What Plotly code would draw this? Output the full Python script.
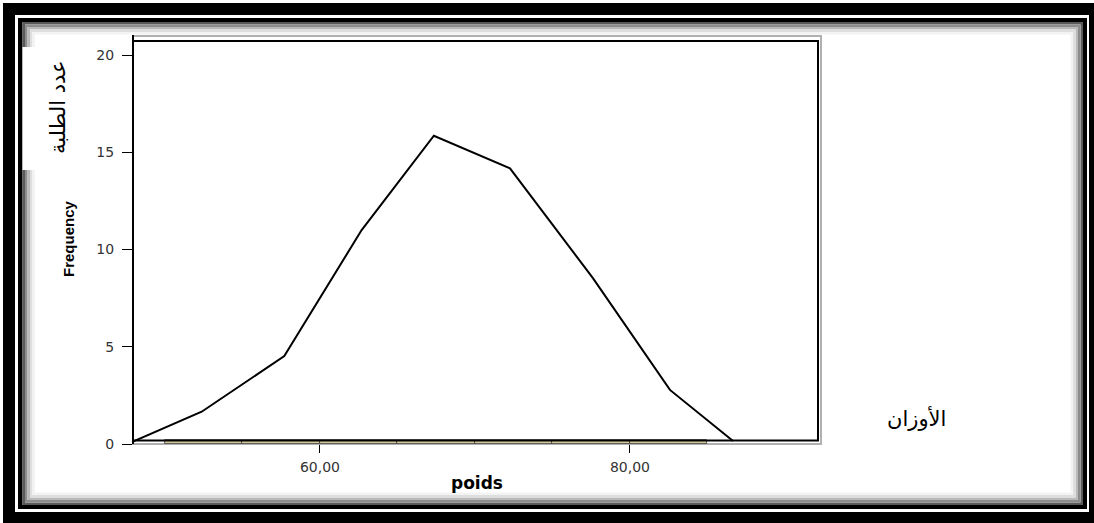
import plotly.graph_objects as go

# ---- data ----
poly_x = [47.94, 52.37, 57.70, 62.69, 67.35, 72.26, 77.61, 82.58, 86.65]
poly_y = [0.12, 1.66, 4.52, 11.0, 15.85, 14.17, 8.53, 2.78, 0.15]
bin_centers = [52.5, 57.5, 62.5, 67.5, 72.5, 77.5, 82.5]
bin_heights = [0.2, 0.2, 0.2, 0.2, 0.2, 0.2, 0.2]
y_ticks = [0, 5, 10, 15, 20]
x_ticks = [60, 80]
x_tick_labels = ["60,00", "80,00"]

W_FIG, H_FIG = 1094, 523
L, R, T, B = 133, 818, 41, 444
PW, PH = R - L, B - T

def px(x):
    return (x - L) / PW

def py(y):
    return (B - y) / PH

def rect(x0, y0, x1, y1, fill=None, line=None, lw=0, layer="below"):
    d = dict(type="rect", xref="paper", yref="paper",
             x0=px(x0), x1=px(x1), y0=py(y1), y1=py(y0), layer=layer,
             line=dict(width=lw, color=line if line else "rgba(0,0,0,0)"))
    d["fillcolor"] = fill if fill else "rgba(0,0,0,0)"
    return d

shapes = []
# outer double frame
shapes.append(rect(3, 3, 1094, 523, fill="black"))
shapes.append(rect(15, 15, 1089, 512, fill="white"))
shapes.append(rect(18, 18, 1087, 509, fill="black"))
shapes.append(rect(22.5, 22, 1083, 505, fill="white"))
# inner shadow gradient
for i, c in enumerate(["#5a5a5a", "#8c8c8c", "#b9b9b9", "#dedede", "#f3f3f3"]):
    o = 1.25 + i * 2.5
    shapes.append(rect(22.5 + o, 22 + o, 1083 - o, 505 - o, line=c, lw=2.5))
# white box behind arabic label
shapes.append(rect(22.5, 47, 95, 170, fill="white"))
# plot area background + gray offset frame
shapes.append(rect(133, 36, 821, 444, fill="white", line="#b0b0b0", lw=2))
shapes.append(rect(133, 41, 818, 440.5, fill="white"))
# black plot frame (above)
shapes.append(rect(133, 41, 818, 440.5, line="black", lw=2, layer="above"))
shapes.append(dict(type="line", xref="paper", yref="paper", x0=px(133), x1=px(133),
                   y0=py(444), y1=py(35), line=dict(color="black", width=2), layer="above"))

fig = go.Figure()
fig.add_trace(go.Bar(x=bin_centers, y=bin_heights, width=5, base=0,
                     marker=dict(color="#d3c99a", line=dict(color="#3a3a3a", width=0.8)),
                     hoverinfo="skip", showlegend=False))
fig.add_trace(go.Scatter(x=poly_x, y=poly_y, mode="lines",
                         line=dict(color="black", width=2), showlegend=False))

annotations = [
    dict(text="Frequency", x=px(68), y=py(239), xref="paper", yref="paper",
         showarrow=False, textangle=-90, xanchor="center", yanchor="middle",
         font=dict(family="Liberation Sans", size=15, color="black", weight="bold")),
    dict(text="poids", x=px(477), y=py(483), xref="paper", yref="paper",
         showarrow=False, xanchor="center", yanchor="middle",
         font=dict(family="DejaVu Sans", size=17, color="black", weight="bold")),
    dict(text="عدد الطلبة", x=px(58), y=py(107), xref="paper", yref="paper",
         showarrow=False, textangle=-90, xanchor="center", yanchor="middle",
         font=dict(family="DejaVu Sans", size=21, color="black")),
    dict(text="الأوزان", x=px(917), y=py(418), xref="paper", yref="paper",
         showarrow=False, xanchor="center", yanchor="middle",
         font=dict(family="DejaVu Sans", size=21, color="black")),
]

fig.update_layout(
    width=W_FIG, height=H_FIG,
    margin=dict(l=L, r=W_FIG - R, t=T, b=H_FIG - B, autoexpand=False),
    paper_bgcolor="white", plot_bgcolor="rgba(0,0,0,0)",
    shapes=shapes, annotations=annotations, bargap=0,
    xaxis=dict(range=[47.94, 92.13], tickvals=x_ticks, ticktext=x_tick_labels,
               ticks="outside", ticklen=8, tickcolor="black", tickwidth=1,
               showgrid=False, zeroline=False, showline=False, automargin=False,
               tickfont=dict(family="DejaVu Sans", size=14, color="#333"),
               ticklabelstandoff=2),
    yaxis=dict(range=[0, 20.72], tickvals=y_ticks,
               ticks="outside", ticklen=10, tickcolor="black", tickwidth=1,
               showgrid=False, zeroline=False, showline=False, automargin=False,
               tickfont=dict(family="DejaVu Sans", size=14, color="#333"),
               ticklabelstandoff=5),
)

fig.write_html("out.html")
